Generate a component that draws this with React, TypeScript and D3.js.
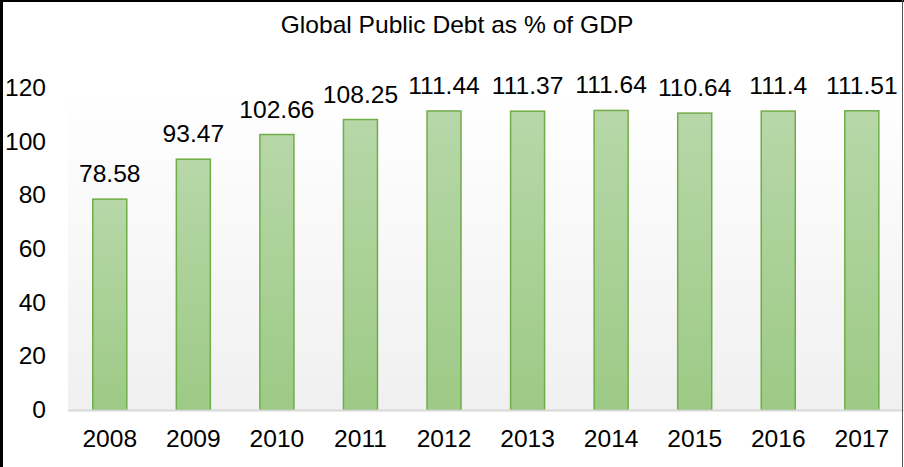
import React from "react";
import * as d3 from "d3";

const title = "Global Public Debt as % of GDP";
const years = ["2008", "2009", "2010", "2011", "2012", "2013", "2014", "2015", "2016", "2017"];
const debt = [78.58, 93.47, 102.66, 108.25, 111.44, 111.37, 111.64, 110.64, 111.4, 111.51];
const yTicks = [0, 20, 40, 60, 80, 100, 120];

const W = 904;
const H = 467;
const plotLeft = 68;
const plotRight = 903.6;
const y0 = 410;
const yTop = 88;
const FONT = "'Liberation Sans', Arial, sans-serif";
const SX = 1.07;

export default function App() {
  const x = d3.scaleBand<string>().domain(years).range([plotLeft, plotRight]).paddingInner(0.593).paddingOuter(0.2965);
  const y = d3.scaleLinear().domain([0, 120]).range([y0, yTop]);
  const txt = (cx: number, cy: number, s: string, anchor: string, size = 23) => (
    <text
      transform={`translate(${cx},${cy}) scale(${SX},1)`}
      textAnchor={anchor}
      fontFamily={FONT}
      fontSize={size}
      fill="#000"
    >
      {s}
    </text>
  );
  return (
    <svg width={W} height={H} style={{ position: "absolute", left: 0, top: 0 }}>
      <defs>
        <linearGradient id="plotBg" x1="0" y1="0" x2="0" y2="1">
          <stop offset="0" stopColor="#ffffff" />
          <stop offset="1" stopColor="#f0f0f0" />
        </linearGradient>
        <linearGradient id="barFill" x1="0" y1="0" x2="0" y2="1">
          <stop offset="0" stopColor="#b7d7a8" />
          <stop offset="1" stopColor="#9dca86" />
        </linearGradient>
      </defs>
      <rect x={0} y={0} width={W} height={H} fill="#fff" />
      <rect x={plotLeft} y={yTop} width={plotRight - plotLeft} height={y0 - yTop} fill="url(#plotBg)" />
      {years.map((yr, i) => (
        <rect
          key={yr}
          x={x(yr)!}
          y={y(debt[i])}
          width={x.bandwidth()}
          height={y0 - y(debt[i])}
          fill="url(#barFill)"
          stroke="#70ad47"
          strokeWidth={1.5}
        />
      ))}
      <line x1={plotLeft} x2={plotRight} y1={y0 + 0.5} y2={y0 + 0.5} stroke="#d9d9d9" strokeWidth={2} />
      {yTicks.map((t) => (
        <g key={t}>{txt(46, y(t) + 8, String(t), "end")}</g>
      ))}
      {years.map((yr) => (
        <g key={yr}>{txt(x(yr)! + x.bandwidth() / 2, 447, yr, "middle")}</g>
      ))}
      {years.map((yr, i) => (
        <g key={yr}>{txt(x(yr)! + x.bandwidth() / 2, y(debt[i]) - 17, String(debt[i]), "middle")}</g>
      ))}
      {txt(457, 33, title, "middle")}
      <line x1={1.5} x2={1.5} y1={0} y2={H} stroke="#000" strokeWidth={3} />
      <line x1={0} x2={W} y1={1} y2={1} stroke="#000" strokeWidth={2} />
      <line x1={902.5} x2={902.5} y1={0} y2={H} stroke="#555" strokeWidth={1} />
    </svg>
  );
}
